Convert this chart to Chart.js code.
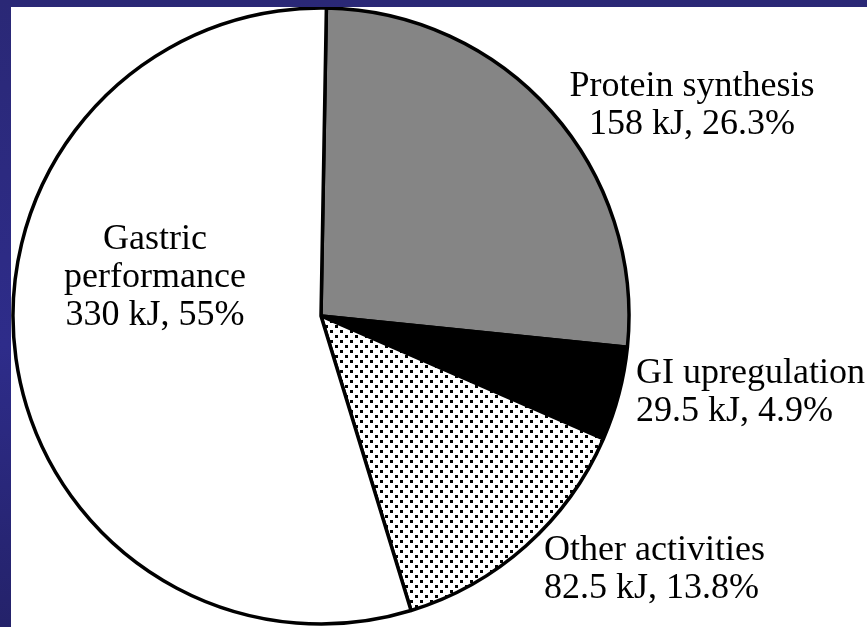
<!DOCTYPE html>
<html>
<head>
<meta charset="utf-8">
<script src="https://cdn.jsdelivr.net/npm/chart.js@4/dist/chart.umd.min.js"></script>
<style>
  html, body { margin: 0; padding: 0; width: 867px; height: 627px; overflow: hidden; }
  body { position: relative; background: linear-gradient(180deg, #2a2876 0%, #2e2c8a 55%, #24226a 100%); }
  #panel { position: absolute; left: 11px; top: 7px; width: 856px; height: 620px; background: #fff; overflow: hidden; }
  #wrap { position: absolute; left: -11px; top: -7px; width: 867px; height: 627px; }
</style>
</head>
<body>
<div id="panel"><div id="wrap"><canvas id="c" width="867" height="627"></canvas></div></div>
<script>
// Energy budget, kJ
const categories = ['Protein synthesis', 'GI upregulation', 'Other activities', 'Gastric performance'];
const energyKJ = [158, 29.5, 82.5, 330];
const percents = [26.3, 4.9, 13.8, 55];
const categoryLines = [['Protein synthesis'], ['GI upregulation'], ['Other activities'], ['Gastric', 'performance']];

// Stippled fill for "Other activities"
function dotPattern() {
  const t = document.createElement('canvas');
  t.width = 10; t.height = 10;
  const g = t.getContext('2d');
  g.fillStyle = '#fff';
  g.fillRect(0, 0, 10, 10);
  g.fillStyle = '#000';
  g.fillRect(0, 0, 3, 3);
  g.fillRect(5, 5, 3, 3);
  return g.createPattern(t, 'repeat');
}

const ctx = document.getElementById('c').getContext('2d');
const fills = ['#858585', '#000000', dotPattern(), '#ffffff'];

// Where each text block sits: x, first baseline, alignment
const labelLayout = [
  { x: 692, y: 96, align: 'center' },
  { x: 636, y: 383, align: 'left' },
  { x: 544, y: 560, align: 'left' },
  { x: 155, y: 249, align: 'center' }
];
const lineHeight = 38;

const sliceLabels = {
  id: 'sliceLabels',
  afterDraw(chart) {
    const c = chart.ctx;
    c.save();
    c.fillStyle = '#000';
    c.font = '36px "Liberation Serif", "Times New Roman", serif';
    c.textBaseline = 'alphabetic';
    categories.forEach((cat, i) => {
      const lay = labelLayout[i];
      const lines = categoryLines[i].concat([energyKJ[i] + ' kJ, ' + percents[i] + '%']);
      c.textAlign = lay.align;
      lines.forEach((ln, k) => c.fillText(ln, lay.x, lay.y + k * lineHeight));
    });
    c.restore();
  }
};

new Chart(ctx, {
  type: 'pie',
  data: {
    labels: categories,
    datasets: [{
      data: energyKJ,
      backgroundColor: fills,
      borderColor: '#000',
      borderWidth: 3.5,
      borderAlign: 'center'
    }]
  },
  options: {
    responsive: false,
    animation: false,
    devicePixelRatio: 1,
    rotation: 1,
    radius: 308,
    layout: { padding: { left: 0, right: 225, top: 5, bottom: 0 } },
    events: [],
    plugins: {
      legend: { display: false },
      tooltip: { enabled: false }
    }
  },
  plugins: [sliceLabels]
});
</script>
</body>
</html>
